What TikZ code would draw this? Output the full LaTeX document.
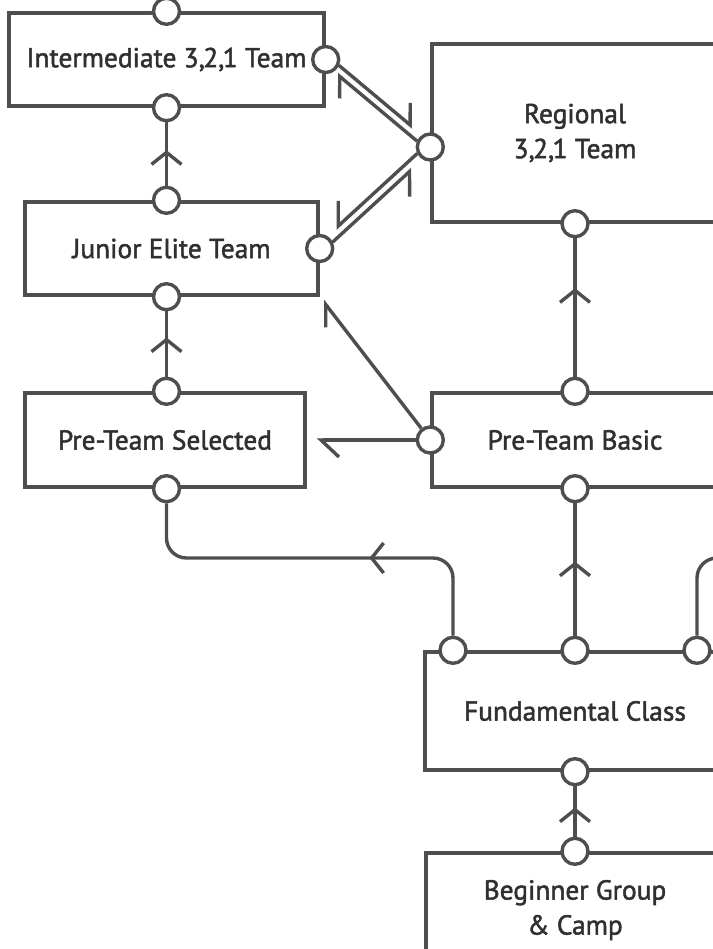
\documentclass[tikz,border=0pt]{standalone}
\usepackage{fontspec}
\setmainfont{PT Sans}
\newfontfamily\boxfont{PT Sans}[FakeBold=1.8]
\newcommand{\tto}{3,\kern-0.8pt2,\kern-0.8pt1}
\definecolor{lineg}{RGB}{78,78,78}
\definecolor{textg}{RGB}{48,48,48}
\usetikzlibrary{arrows.meta,decorations.markings}

\begin{document}
\begin{tikzpicture}[
  x=0.5pt, y=-0.5pt,
  box/.style={rectangle, draw=lineg, line width=1.7pt, text=textg,
    font=\boxfont\fontsize{13.7}{17.5}\selectfont, align=center, inner sep=0pt},
  port/.style={circle, draw=lineg, fill=white, line width=1.7pt,
    minimum size=13pt, inner sep=0pt},
  link/.style={draw=lineg, line width=1.7pt},
  midarrow/.style={postaction={decorate}, decoration={markings,
    mark=at position #1 with {\arrow{Straight Barb[length=6pt, width=15pt]}}}},
]
\useasboundingbox (0,0) rectangle (713,949);
\clip (0,0) rectangle (713,949);

% Boxes
\node[box, minimum width=157.5pt, minimum height=46.5pt] (inter) at (166.5,59.5) {Intermediate \tto\ Team};
\node[box, minimum width=143pt, minimum height=89pt] (regional) at (575,133) {Regional\\\tto\ Team};
\node[box, minimum width=146.5pt, minimum height=46.5pt] (junior) at (171.5,248.5) {Junior Elite Team};
\node[box, minimum width=140pt, minimum height=47pt] (ptsel) at (165,440) {Pre-Team Selected};
\node[box, minimum width=143pt, minimum height=47pt] (ptbasic) at (575,440) {Pre-Team Basic};
\node[box, minimum width=150pt, minimum height=59pt] (fund) at (575,711) {Fundamental Class};
\node[box, minimum width=149pt, minimum height=57pt] (beginner) at (575,910) {Beginner Group\\\& Camp};

% Ports
\node[port] (inter-n) at (inter.north) {};
\node[port] (inter-s) at (inter.south) {};
\node[port] (inter-e) at (inter.east) {};
\node[port] (regional-w) at ([yshift=-7pt]regional.west) {};
\node[port] (regional-s) at (regional.south) {};
\node[port] (junior-n) at (junior.north -| inter.south) {};
\node[port] (junior-s) at (junior.south -| inter.south) {};
\node[port] (junior-e) at (junior.east) {};
\node[port] (ptsel-n) at (ptsel.north -| inter.south) {};
\node[port] (ptsel-s) at (ptsel.south -| inter.south) {};
\node[port] (ptbasic-n) at (ptbasic.north) {};
\node[port] (ptbasic-s) at (ptbasic.south) {};
\node[port] (ptbasic-w) at (ptbasic.west) {};
\node[port] (fund-nw) at ([xshift=-61pt]fund.north) {};
\node[port] (fund-n) at (fund.north) {};
\node[port] (fund-ne) at ([xshift=61pt]fund.north) {};
\node[port] (fund-s) at (fund.south) {};
\node[port] (beginner-n) at (beginner.north) {};

% Upward links
\foreach \a/\b/\p in {junior-n/inter-s/0.56, ptsel-n/junior-s/0.6, ptbasic-n/regional-s/0.64,
                      fund-n/ptbasic-s/0.56, beginner-n/fund-s/0.58} {
  \draw[link, midarrow=\p] (\a) -- (\b);
}

% Side links out of Fundamental Class
\coordinate (bend) at (ptsel-s |- 0,558);
\coordinate (exit) at (740,558);
\draw[link, rounded corners=10pt, midarrow=0.38] (fund-nw) |- (bend) -- (ptsel-s);
\draw[link, rounded corners=10pt] (fund-ne) |- (exit);

% Two-way links to Regional
\draw[link, shorten <=7pt, shorten >=13pt, -{Straight Barb[left, length=7pt, width=17pt]}]
  ([shift={(2.5,-3.1)}]inter-e.center) -- ([shift={(2.5,-3.1)}]regional-w.center);
\draw[link, shorten <=7pt, shorten >=9pt, -{Straight Barb[left, length=7pt, width=17pt]}]
  ([shift={(-2.5,3.1)}]regional-w.center) -- ([shift={(-2.5,3.1)}]inter-e.center);
\draw[link, shorten <=7pt, shorten >=14pt, -{Straight Barb[right, length=8.5pt, width=18.6pt]}]
  ([shift={(2.7,3)}]junior-e.center) -- ([shift={(2.7,3)}]regional-w.center);
\draw[link, shorten <=7pt, shorten >=12.5pt, -{Straight Barb[right, length=8.5pt, width=18.6pt]}]
  ([shift={(-2.7,-3)}]regional-w.center) -- ([shift={(-2.7,-3)}]junior-e.center);

% Links out of Pre-Team Basic
\draw[link, shorten >=5pt, -{Straight Barb[left, length=9pt, width=17pt]}] (ptbasic-w) -- (ptbasic-w -| ptsel.east);
\draw[link, shorten >=2.5pt, -{Straight Barb[left, length=9pt, width=14pt]}] (ptbasic-w) -- (junior.south east);

\end{tikzpicture}
\end{document}
